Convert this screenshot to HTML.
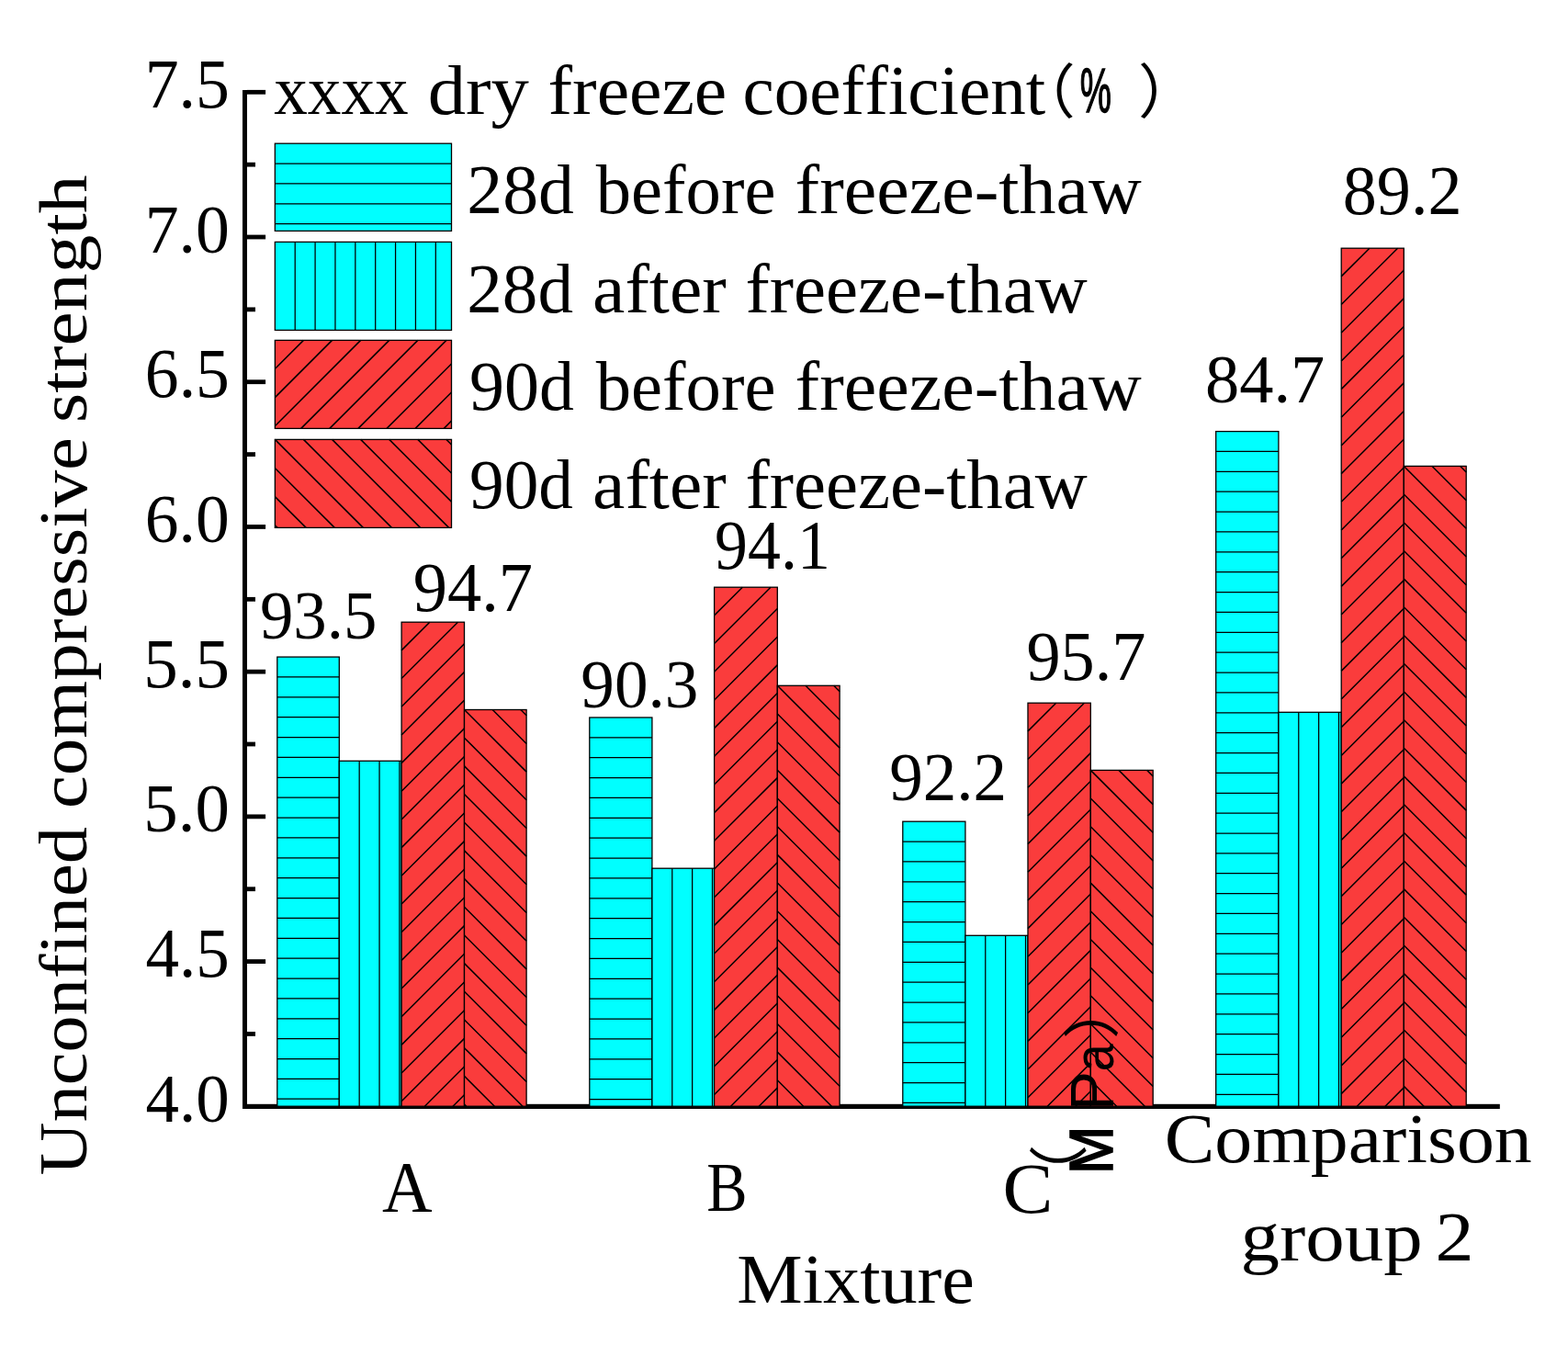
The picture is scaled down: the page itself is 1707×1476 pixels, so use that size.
<!DOCTYPE html>
<html><head><meta charset="utf-8"><title>chart</title>
<style>
html,body{margin:0;padding:0;background:#fff;}
svg{display:block;}
text{font-kerning:none;font-variant-ligatures:none;fill:#000;}
</style></head><body>
<svg width="1707" height="1476" viewBox="0 0 1707 1476">
<rect width="1707" height="1476" fill="#fff"/>
<rect x="264.0" y="98" width="5.00" height="1109.00" fill="#000"/>
<rect x="264.0" y="1201.8" width="1368.80" height="5.2" fill="#000"/>
<rect x="269.0" y="97.90" width="20.10" height="4.8" fill="#000"/>
<rect x="269.0" y="176.76" width="9.00" height="4.8" fill="#000"/>
<rect x="269.0" y="255.61" width="20.10" height="4.8" fill="#000"/>
<rect x="269.0" y="334.47" width="9.00" height="4.8" fill="#000"/>
<rect x="269.0" y="413.33" width="20.10" height="4.8" fill="#000"/>
<rect x="269.0" y="492.19" width="9.00" height="4.8" fill="#000"/>
<rect x="269.0" y="571.04" width="20.10" height="4.8" fill="#000"/>
<rect x="269.0" y="649.90" width="9.00" height="4.8" fill="#000"/>
<rect x="269.0" y="728.76" width="20.10" height="4.8" fill="#000"/>
<rect x="269.0" y="807.61" width="9.00" height="4.8" fill="#000"/>
<rect x="269.0" y="886.47" width="20.10" height="4.8" fill="#000"/>
<rect x="269.0" y="965.33" width="9.00" height="4.8" fill="#000"/>
<rect x="269.0" y="1044.18" width="20.10" height="4.8" fill="#000"/>
<rect x="269.0" y="1123.04" width="9.00" height="4.8" fill="#000"/>
<rect x="301.80" y="715.10" width="67.50" height="489.10" fill="#00FFFF"/>
<path d="M301.80 736.97L369.30 736.97M301.80 758.84L369.30 758.84M301.80 780.71L369.30 780.71M301.80 802.58L369.30 802.58M301.80 824.45L369.30 824.45M301.80 846.32L369.30 846.32M301.80 868.19L369.30 868.19M301.80 890.06L369.30 890.06M301.80 911.93L369.30 911.93M301.80 933.80L369.30 933.80M301.80 955.67L369.30 955.67M301.80 977.54L369.30 977.54M301.80 999.41L369.30 999.41M301.80 1021.28L369.30 1021.28M301.80 1043.15L369.30 1043.15M301.80 1065.02L369.30 1065.02M301.80 1086.89L369.30 1086.89M301.80 1108.76L369.30 1108.76M301.80 1130.63L369.30 1130.63M301.80 1152.50L369.30 1152.50M301.80 1174.37L369.30 1174.37M301.80 1196.24L369.30 1196.24" stroke="#000" stroke-width="1.25" fill="none"/>
<rect x="301.80" y="715.10" width="67.50" height="489.10" fill="none" stroke="#000" stroke-width="1.3"/>
<rect x="369.30" y="828.30" width="67.80" height="375.90" fill="#00FFFF"/>
<path d="M391.17 828.30L391.17 1204.20M413.04 828.30L413.04 1204.20M434.91 828.30L434.91 1204.20" stroke="#000" stroke-width="1.25" fill="none"/>
<rect x="369.30" y="828.30" width="67.80" height="375.90" fill="none" stroke="#000" stroke-width="1.3"/>
<rect x="437.10" y="677.20" width="68.40" height="527.00" fill="#FA3C3C"/>
<path d="M437.10 707.88L467.78 677.20M437.10 738.56L498.46 677.20M437.10 769.24L505.50 700.84M437.10 799.92L505.50 731.52M437.10 830.60L505.50 762.20M437.10 861.28L505.50 792.88M437.10 891.96L505.50 823.56M437.10 922.64L505.50 854.24M437.10 953.32L505.50 884.92M437.10 984.00L505.50 915.60M437.10 1014.68L505.50 946.28M437.10 1045.36L505.50 976.96M437.10 1076.04L505.50 1007.64M437.10 1106.72L505.50 1038.32M437.10 1137.40L505.50 1069.00M437.10 1168.08L505.50 1099.68M437.10 1198.76L505.50 1130.36M462.34 1204.20L505.50 1161.04M493.02 1204.20L505.50 1191.72" stroke="#000" stroke-width="1.5" fill="none"/>
<rect x="437.10" y="677.20" width="68.40" height="527.00" fill="none" stroke="#000" stroke-width="1.3"/>
<rect x="505.50" y="772.50" width="67.60" height="431.70" fill="#FA3C3C"/>
<path d="M505.50 772.50L573.10 840.10M536.18 772.50L573.10 809.42M566.86 772.50L573.10 778.74M505.50 803.18L573.10 870.78M505.50 833.86L573.10 901.46M505.50 864.54L573.10 932.14M505.50 895.22L573.10 962.82M505.50 925.90L573.10 993.50M505.50 956.58L573.10 1024.18M505.50 987.26L573.10 1054.86M505.50 1017.94L573.10 1085.54M505.50 1048.62L573.10 1116.22M505.50 1079.30L573.10 1146.90M505.50 1109.98L573.10 1177.58M505.50 1140.66L569.04 1204.20M505.50 1171.34L538.36 1204.20M505.50 1202.02L507.68 1204.20" stroke="#000" stroke-width="1.5" fill="none"/>
<rect x="505.50" y="772.50" width="67.60" height="431.70" fill="none" stroke="#000" stroke-width="1.3"/>
<rect x="641.80" y="781.00" width="68.10" height="423.20" fill="#00FFFF"/>
<path d="M641.80 802.87L709.90 802.87M641.80 824.74L709.90 824.74M641.80 846.61L709.90 846.61M641.80 868.48L709.90 868.48M641.80 890.35L709.90 890.35M641.80 912.22L709.90 912.22M641.80 934.09L709.90 934.09M641.80 955.96L709.90 955.96M641.80 977.83L709.90 977.83M641.80 999.70L709.90 999.70M641.80 1021.57L709.90 1021.57M641.80 1043.44L709.90 1043.44M641.80 1065.31L709.90 1065.31M641.80 1087.18L709.90 1087.18M641.80 1109.05L709.90 1109.05M641.80 1130.92L709.90 1130.92M641.80 1152.79L709.90 1152.79M641.80 1174.66L709.90 1174.66M641.80 1196.53L709.90 1196.53" stroke="#000" stroke-width="1.25" fill="none"/>
<rect x="641.80" y="781.00" width="68.10" height="423.20" fill="none" stroke="#000" stroke-width="1.3"/>
<rect x="709.90" y="945.20" width="67.70" height="259.00" fill="#00FFFF"/>
<path d="M731.77 945.20L731.77 1204.20M753.64 945.20L753.64 1204.20M775.51 945.20L775.51 1204.20" stroke="#000" stroke-width="1.25" fill="none"/>
<rect x="709.90" y="945.20" width="67.70" height="259.00" fill="none" stroke="#000" stroke-width="1.3"/>
<rect x="777.60" y="639.20" width="68.70" height="565.00" fill="#FA3C3C"/>
<path d="M777.60 669.88L808.28 639.20M777.60 700.56L838.96 639.20M777.60 731.24L846.30 662.54M777.60 761.92L846.30 693.22M777.60 792.60L846.30 723.90M777.60 823.28L846.30 754.58M777.60 853.96L846.30 785.26M777.60 884.64L846.30 815.94M777.60 915.32L846.30 846.62M777.60 946.00L846.30 877.30M777.60 976.68L846.30 907.98M777.60 1007.36L846.30 938.66M777.60 1038.04L846.30 969.34M777.60 1068.72L846.30 1000.02M777.60 1099.40L846.30 1030.70M777.60 1130.08L846.30 1061.38M777.60 1160.76L846.30 1092.06M777.60 1191.44L846.30 1122.74M795.52 1204.20L846.30 1153.42M826.20 1204.20L846.30 1184.10" stroke="#000" stroke-width="1.5" fill="none"/>
<rect x="777.60" y="639.20" width="68.70" height="565.00" fill="none" stroke="#000" stroke-width="1.3"/>
<rect x="846.30" y="746.30" width="67.80" height="457.90" fill="#FA3C3C"/>
<path d="M846.30 746.30L914.10 814.10M876.98 746.30L914.10 783.42M907.66 746.30L914.10 752.74M846.30 776.98L914.10 844.78M846.30 807.66L914.10 875.46M846.30 838.34L914.10 906.14M846.30 869.02L914.10 936.82M846.30 899.70L914.10 967.50M846.30 930.38L914.10 998.18M846.30 961.06L914.10 1028.86M846.30 991.74L914.10 1059.54M846.30 1022.42L914.10 1090.22M846.30 1053.10L914.10 1120.90M846.30 1083.78L914.10 1151.58M846.30 1114.46L914.10 1182.26M846.30 1145.14L905.36 1204.20M846.30 1175.82L874.68 1204.20" stroke="#000" stroke-width="1.5" fill="none"/>
<rect x="846.30" y="746.30" width="67.80" height="457.90" fill="none" stroke="#000" stroke-width="1.3"/>
<rect x="982.80" y="894.20" width="68.10" height="310.00" fill="#00FFFF"/>
<path d="M982.80 916.07L1050.90 916.07M982.80 937.94L1050.90 937.94M982.80 959.81L1050.90 959.81M982.80 981.68L1050.90 981.68M982.80 1003.55L1050.90 1003.55M982.80 1025.42L1050.90 1025.42M982.80 1047.29L1050.90 1047.29M982.80 1069.16L1050.90 1069.16M982.80 1091.03L1050.90 1091.03M982.80 1112.90L1050.90 1112.90M982.80 1134.77L1050.90 1134.77M982.80 1156.64L1050.90 1156.64M982.80 1178.51L1050.90 1178.51M982.80 1200.38L1050.90 1200.38" stroke="#000" stroke-width="1.25" fill="none"/>
<rect x="982.80" y="894.20" width="68.10" height="310.00" fill="none" stroke="#000" stroke-width="1.3"/>
<rect x="1050.90" y="1018.30" width="68.10" height="185.90" fill="#00FFFF"/>
<path d="M1072.77 1018.30L1072.77 1204.20M1094.64 1018.30L1094.64 1204.20M1116.51 1018.30L1116.51 1204.20" stroke="#000" stroke-width="1.25" fill="none"/>
<rect x="1050.90" y="1018.30" width="68.10" height="185.90" fill="none" stroke="#000" stroke-width="1.3"/>
<rect x="1119.00" y="765.20" width="68.30" height="439.00" fill="#FA3C3C"/>
<path d="M1119.00 795.88L1149.68 765.20M1119.00 826.56L1180.36 765.20M1119.00 857.24L1187.30 788.94M1119.00 887.92L1187.30 819.62M1119.00 918.60L1187.30 850.30M1119.00 949.28L1187.30 880.98M1119.00 979.96L1187.30 911.66M1119.00 1010.64L1187.30 942.34M1119.00 1041.32L1187.30 973.02M1119.00 1072.00L1187.30 1003.70M1119.00 1102.68L1187.30 1034.38M1119.00 1133.36L1187.30 1065.06M1119.00 1164.04L1187.30 1095.74M1119.00 1194.72L1187.30 1126.42M1140.20 1204.20L1187.30 1157.10M1170.88 1204.20L1187.30 1187.78" stroke="#000" stroke-width="1.5" fill="none"/>
<rect x="1119.00" y="765.20" width="68.30" height="439.00" fill="none" stroke="#000" stroke-width="1.3"/>
<rect x="1187.30" y="838.40" width="67.90" height="365.80" fill="#FA3C3C"/>
<path d="M1187.30 838.40L1255.20 906.30M1217.98 838.40L1255.20 875.62M1248.66 838.40L1255.20 844.94M1187.30 869.08L1255.20 936.98M1187.30 899.76L1255.20 967.66M1187.30 930.44L1255.20 998.34M1187.30 961.12L1255.20 1029.02M1187.30 991.80L1255.20 1059.70M1187.30 1022.48L1255.20 1090.38M1187.30 1053.16L1255.20 1121.06M1187.30 1083.84L1255.20 1151.74M1187.30 1114.52L1255.20 1182.42M1187.30 1145.20L1246.30 1204.20M1187.30 1175.88L1215.62 1204.20" stroke="#000" stroke-width="1.5" fill="none"/>
<rect x="1187.30" y="838.40" width="67.90" height="365.80" fill="none" stroke="#000" stroke-width="1.3"/>
<rect x="1323.70" y="469.60" width="68.20" height="734.60" fill="#00FFFF"/>
<path d="M1323.70 491.47L1391.90 491.47M1323.70 513.34L1391.90 513.34M1323.70 535.21L1391.90 535.21M1323.70 557.08L1391.90 557.08M1323.70 578.95L1391.90 578.95M1323.70 600.82L1391.90 600.82M1323.70 622.69L1391.90 622.69M1323.70 644.56L1391.90 644.56M1323.70 666.43L1391.90 666.43M1323.70 688.30L1391.90 688.30M1323.70 710.17L1391.90 710.17M1323.70 732.04L1391.90 732.04M1323.70 753.91L1391.90 753.91M1323.70 775.78L1391.90 775.78M1323.70 797.65L1391.90 797.65M1323.70 819.52L1391.90 819.52M1323.70 841.39L1391.90 841.39M1323.70 863.26L1391.90 863.26M1323.70 885.13L1391.90 885.13M1323.70 907.00L1391.90 907.00M1323.70 928.87L1391.90 928.87M1323.70 950.74L1391.90 950.74M1323.70 972.61L1391.90 972.61M1323.70 994.48L1391.90 994.48M1323.70 1016.35L1391.90 1016.35M1323.70 1038.22L1391.90 1038.22M1323.70 1060.09L1391.90 1060.09M1323.70 1081.96L1391.90 1081.96M1323.70 1103.83L1391.90 1103.83M1323.70 1125.70L1391.90 1125.70M1323.70 1147.57L1391.90 1147.57M1323.70 1169.44L1391.90 1169.44M1323.70 1191.31L1391.90 1191.31" stroke="#000" stroke-width="1.25" fill="none"/>
<rect x="1323.70" y="469.60" width="68.20" height="734.60" fill="none" stroke="#000" stroke-width="1.3"/>
<rect x="1391.90" y="775.30" width="68.30" height="428.90" fill="#00FFFF"/>
<path d="M1413.77 775.30L1413.77 1204.20M1435.64 775.30L1435.64 1204.20M1457.51 775.30L1457.51 1204.20" stroke="#000" stroke-width="1.25" fill="none"/>
<rect x="1391.90" y="775.30" width="68.30" height="428.90" fill="none" stroke="#000" stroke-width="1.3"/>
<rect x="1460.20" y="270.20" width="68.10" height="934.00" fill="#FA3C3C"/>
<path d="M1460.20 300.88L1490.88 270.20M1460.20 331.56L1521.56 270.20M1460.20 362.24L1528.30 294.14M1460.20 392.92L1528.30 324.82M1460.20 423.60L1528.30 355.50M1460.20 454.28L1528.30 386.18M1460.20 484.96L1528.30 416.86M1460.20 515.64L1528.30 447.54M1460.20 546.32L1528.30 478.22M1460.20 577.00L1528.30 508.90M1460.20 607.68L1528.30 539.58M1460.20 638.36L1528.30 570.26M1460.20 669.04L1528.30 600.94M1460.20 699.72L1528.30 631.62M1460.20 730.40L1528.30 662.30M1460.20 761.08L1528.30 692.98M1460.20 791.76L1528.30 723.66M1460.20 822.44L1528.30 754.34M1460.20 853.12L1528.30 785.02M1460.20 883.80L1528.30 815.70M1460.20 914.48L1528.30 846.38M1460.20 945.16L1528.30 877.06M1460.20 975.84L1528.30 907.74M1460.20 1006.52L1528.30 938.42M1460.20 1037.20L1528.30 969.10M1460.20 1067.88L1528.30 999.78M1460.20 1098.56L1528.30 1030.46M1460.20 1129.24L1528.30 1061.14M1460.20 1159.92L1528.30 1091.82M1460.20 1190.60L1528.30 1122.50M1477.28 1204.20L1528.30 1153.18M1507.96 1204.20L1528.30 1183.86" stroke="#000" stroke-width="1.5" fill="none"/>
<rect x="1460.20" y="270.20" width="68.10" height="934.00" fill="none" stroke="#000" stroke-width="1.3"/>
<rect x="1528.30" y="507.40" width="67.90" height="696.80" fill="#FA3C3C"/>
<path d="M1528.30 507.40L1596.20 575.30M1558.98 507.40L1596.20 544.62M1589.66 507.40L1596.20 513.94M1528.30 538.08L1596.20 605.98M1528.30 568.76L1596.20 636.66M1528.30 599.44L1596.20 667.34M1528.30 630.12L1596.20 698.02M1528.30 660.80L1596.20 728.70M1528.30 691.48L1596.20 759.38M1528.30 722.16L1596.20 790.06M1528.30 752.84L1596.20 820.74M1528.30 783.52L1596.20 851.42M1528.30 814.20L1596.20 882.10M1528.30 844.88L1596.20 912.78M1528.30 875.56L1596.20 943.46M1528.30 906.24L1596.20 974.14M1528.30 936.92L1596.20 1004.82M1528.30 967.60L1596.20 1035.50M1528.30 998.28L1596.20 1066.18M1528.30 1028.96L1596.20 1096.86M1528.30 1059.64L1596.20 1127.54M1528.30 1090.32L1596.20 1158.22M1528.30 1121.00L1596.20 1188.90M1528.30 1151.68L1580.82 1204.20M1528.30 1182.36L1550.14 1204.20" stroke="#000" stroke-width="1.5" fill="none"/>
<rect x="1528.30" y="507.40" width="67.90" height="696.80" fill="none" stroke="#000" stroke-width="1.3"/>
<rect x="299.35" y="156.20" width="192.15" height="95.20" fill="#00FFFF"/>
<path d="M299.35 178.07L491.50 178.07M299.35 199.94L491.50 199.94M299.35 221.81L491.50 221.81M299.35 243.68L491.50 243.68" stroke="#000" stroke-width="1.25" fill="none"/>
<rect x="299.35" y="156.20" width="192.15" height="95.20" fill="none" stroke="#000" stroke-width="1.3"/>
<rect x="299.35" y="263.40" width="192.15" height="96.00" fill="#00FFFF"/>
<path d="M321.22 263.40L321.22 359.40M343.09 263.40L343.09 359.40M364.96 263.40L364.96 359.40M386.83 263.40L386.83 359.40M408.70 263.40L408.70 359.40M430.57 263.40L430.57 359.40M452.44 263.40L452.44 359.40M474.31 263.40L474.31 359.40" stroke="#000" stroke-width="1.25" fill="none"/>
<rect x="299.35" y="263.40" width="192.15" height="96.00" fill="none" stroke="#000" stroke-width="1.3"/>
<rect x="299.35" y="370.40" width="192.15" height="96.00" fill="#FA3C3C"/>
<path d="M299.35 401.50L330.45 370.40M299.35 432.60L361.55 370.40M299.35 463.70L392.65 370.40M327.75 466.40L423.75 370.40M358.85 466.40L454.85 370.40M389.95 466.40L485.95 370.40M421.05 466.40L491.50 395.95M452.15 466.40L491.50 427.05M483.25 466.40L491.50 458.15" stroke="#000" stroke-width="1.5" fill="none"/>
<rect x="299.35" y="370.40" width="192.15" height="96.00" fill="none" stroke="#000" stroke-width="1.3"/>
<rect x="299.35" y="478.40" width="192.15" height="96.00" fill="#FA3C3C"/>
<path d="M299.35 478.40L395.35 574.40M330.45 478.40L426.45 574.40M361.55 478.40L457.55 574.40M392.65 478.40L488.65 574.40M423.75 478.40L491.50 546.15M454.85 478.40L491.50 515.05M485.95 478.40L491.50 483.95M299.35 509.50L364.25 574.40M299.35 540.60L333.15 574.40M299.35 571.70L302.05 574.40" stroke="#000" stroke-width="1.5" fill="none"/>
<rect x="299.35" y="478.40" width="192.15" height="96.00" fill="none" stroke="#000" stroke-width="1.3"/>
<text x="298.16" y="123.90" font-family='"Liberation Serif", serif' font-size="76.00" textLength="146.54" lengthAdjust="spacingAndGlyphs">xxxx</text>
<text x="465.71" y="123.90" font-family='"Liberation Serif", serif' font-size="76.00" textLength="110.21" lengthAdjust="spacingAndGlyphs">dry</text>
<text x="596.55" y="123.90" font-family='"Liberation Serif", serif' font-size="76.00" textLength="194.72" lengthAdjust="spacingAndGlyphs">freeze</text>
<text x="808.46" y="123.90" font-family='"Liberation Serif", serif' font-size="76.00" textLength="329.79" lengthAdjust="spacingAndGlyphs">coefficient</text>
<text x="1104.81" y="122.96" font-family='"Liberation Sans", "Noto Sans CJK SC", sans-serif' font-size="63.97" textLength="66.02" lengthAdjust="spacingAndGlyphs">（</text>
<text x="1175.83" y="121.70" font-family='"Liberation Sans", sans-serif' font-size="67.74" textLength="34.14" lengthAdjust="spacingAndGlyphs" stroke="#000" stroke-width="1.4">%</text>
<text x="1239.10" y="122.96" font-family='"Liberation Sans", "Noto Sans CJK SC", sans-serif' font-size="63.97" textLength="65.25" lengthAdjust="spacingAndGlyphs">）</text>
<text x="508.28" y="232.20" font-family='"Liberation Serif", serif' font-size="76.00" textLength="116.67" lengthAdjust="spacingAndGlyphs">28d</text>
<text x="648.80" y="232.20" font-family='"Liberation Serif", serif' font-size="76.00" textLength="195.66" lengthAdjust="spacingAndGlyphs">before</text>
<text x="865.54" y="232.20" font-family='"Liberation Serif", serif' font-size="76.00" textLength="377.21" lengthAdjust="spacingAndGlyphs">freeze-thaw</text>
<text x="508.31" y="339.80" font-family='"Liberation Serif", serif' font-size="76.00" textLength="115.63" lengthAdjust="spacingAndGlyphs">28d</text>
<text x="645.11" y="339.80" font-family='"Liberation Serif", serif' font-size="76.00" textLength="145.59" lengthAdjust="spacingAndGlyphs">after</text>
<text x="811.47" y="339.80" font-family='"Liberation Serif", serif' font-size="76.00" textLength="372.17" lengthAdjust="spacingAndGlyphs">freeze-thaw</text>
<text x="511.05" y="446.30" font-family='"Liberation Serif", serif' font-size="76.00" textLength="113.87" lengthAdjust="spacingAndGlyphs">90d</text>
<text x="648.80" y="446.30" font-family='"Liberation Serif", serif' font-size="76.00" textLength="195.66" lengthAdjust="spacingAndGlyphs">before</text>
<text x="865.54" y="446.30" font-family='"Liberation Serif", serif' font-size="76.00" textLength="377.21" lengthAdjust="spacingAndGlyphs">freeze-thaw</text>
<text x="511.08" y="553.20" font-family='"Liberation Serif", serif' font-size="76.00" textLength="112.84" lengthAdjust="spacingAndGlyphs">90d</text>
<text x="645.11" y="553.20" font-family='"Liberation Serif", serif' font-size="76.00" textLength="145.59" lengthAdjust="spacingAndGlyphs">after</text>
<text x="811.47" y="553.20" font-family='"Liberation Serif", serif' font-size="76.00" textLength="372.17" lengthAdjust="spacingAndGlyphs">freeze-thaw</text>
<text x="158.57" y="1220.84" font-family='"Liberation Serif", serif' font-size="74.79" textLength="91.20" lengthAdjust="spacingAndGlyphs">4.0</text>
<text x="158.57" y="1063.13" font-family='"Liberation Serif", serif' font-size="75.55" textLength="91.28" lengthAdjust="spacingAndGlyphs">4.5</text>
<text x="156.25" y="905.44" font-family='"Liberation Serif", serif' font-size="74.79" textLength="93.60" lengthAdjust="spacingAndGlyphs">5.0</text>
<text x="156.25" y="747.72" font-family='"Liberation Serif", serif' font-size="75.94" textLength="93.68" lengthAdjust="spacingAndGlyphs">5.5</text>
<text x="157.84" y="590.04" font-family='"Liberation Serif", serif' font-size="74.79" textLength="91.96" lengthAdjust="spacingAndGlyphs">6.0</text>
<text x="157.84" y="432.34" font-family='"Liberation Serif", serif' font-size="75.12" textLength="92.04" lengthAdjust="spacingAndGlyphs">6.5</text>
<text x="157.64" y="274.64" font-family='"Liberation Serif", serif' font-size="74.79" textLength="92.17" lengthAdjust="spacingAndGlyphs">7.0</text>
<text x="157.64" y="116.92" font-family='"Liberation Serif", serif' font-size="75.94" textLength="92.25" lengthAdjust="spacingAndGlyphs">7.5</text>
<text x="282.95" y="694.84" font-family='"Liberation Serif", serif' font-size="74.53" textLength="127.49" lengthAdjust="spacingAndGlyphs">93.5</text>
<text x="449.70" y="664.83" font-family='"Liberation Serif", serif' font-size="75.27" textLength="130.45" lengthAdjust="spacingAndGlyphs">94.7</text>
<text x="632.34" y="769.84" font-family='"Liberation Serif", serif' font-size="74.94" textLength="128.01" lengthAdjust="spacingAndGlyphs">90.3</text>
<text x="778.08" y="619.42" font-family='"Liberation Serif", serif' font-size="76.30" textLength="125.73" lengthAdjust="spacingAndGlyphs">94.1</text>
<text x="968.14" y="870.54" font-family='"Liberation Serif", serif' font-size="74.82" textLength="127.99" lengthAdjust="spacingAndGlyphs">92.2</text>
<text x="1117.41" y="739.93" font-family='"Liberation Serif", serif' font-size="75.86" textLength="130.04" lengthAdjust="spacingAndGlyphs">95.7</text>
<text x="1312.06" y="437.85" font-family='"Liberation Serif", serif' font-size="74.50" textLength="130.28" lengthAdjust="spacingAndGlyphs">84.7</text>
<text x="1461.78" y="233.23" font-family='"Liberation Serif", serif' font-size="75.38" textLength="129.71" lengthAdjust="spacingAndGlyphs">89.2</text>
<text x="416.06" y="1318.00" font-family='"Liberation Serif", serif' font-size="78.16" textLength="54.59" lengthAdjust="spacingAndGlyphs">A</text>
<text x="769.28" y="1317.78" font-family='"Liberation Serif", serif' font-size="76.48" textLength="44.36" lengthAdjust="spacingAndGlyphs">B</text>
<text x="1091.52" y="1320.24" font-family='"Liberation Serif", serif' font-size="77.54" textLength="54.92" lengthAdjust="spacingAndGlyphs">C</text>
<text x="1267.74" y="1264.50" font-family='"Liberation Serif", serif' font-size="76.00" textLength="399.99" lengthAdjust="spacingAndGlyphs">Comparison</text>
<text x="1350.55" y="1371.50" font-family='"Liberation Serif", serif' font-size="76.00" textLength="198.17" lengthAdjust="spacingAndGlyphs">group</text>
<text x="1562.61" y="1371.80" font-family='"Liberation Serif", serif' font-size="75.52" textLength="42.03" lengthAdjust="spacingAndGlyphs">2</text>
<text x="802.29" y="1418.20" font-family='"Liberation Serif", serif' font-size="76.00" textLength="258.70" lengthAdjust="spacingAndGlyphs">Mixture</text>
<text x="-1.69" y="0" font-family='"Liberation Serif", serif' font-size="74.80" textLength="379.27" lengthAdjust="spacingAndGlyphs" transform="translate(94.20,1277.70) rotate(-90)">Unconfined</text>
<text x="-3.08" y="0" font-family='"Liberation Serif", serif' font-size="74.80" textLength="403.88" lengthAdjust="spacingAndGlyphs" transform="translate(94.20,876.90) rotate(-90)">compressive</text>
<text x="-3.44" y="0" font-family='"Liberation Serif", serif' font-size="74.80" textLength="270.04" lengthAdjust="spacingAndGlyphs" transform="translate(94.20,456.90) rotate(-90)">strength</text>
<text x="-45.89" y="0" font-family='"Liberation Sans", "Noto Sans CJK SC", sans-serif' font-size="64.71" textLength="66.02" lengthAdjust="spacingAndGlyphs" transform="translate(1176.39,1265.90) rotate(-90)">（</text>
<text x="-5.19" y="0" font-family='"Liberation Sans", sans-serif' font-size="67.30" textLength="52.67" lengthAdjust="spacingAndGlyphs" transform="translate(1211.40,1273.00) rotate(-90)" stroke="#000" stroke-width="1.6">M</text>
<text x="-5.27" y="0" font-family='"Liberation Sans", sans-serif' font-size="66.90" textLength="42.86" lengthAdjust="spacingAndGlyphs" transform="translate(1211.80,1203.70) rotate(-90)">P</text>
<text x="-2.29" y="0" font-family='"Liberation Sans", sans-serif' font-size="62.00" textLength="29.99" lengthAdjust="spacingAndGlyphs" transform="translate(1212.40,1164.00) rotate(-90)">a</text>
<text x="-3.02" y="0" font-family='"Liberation Sans", "Noto Sans CJK SC", sans-serif' font-size="62.08" textLength="65.64" lengthAdjust="spacingAndGlyphs" transform="translate(1211.94,1128.00) rotate(-90)">）</text>
</svg>
</body></html>
